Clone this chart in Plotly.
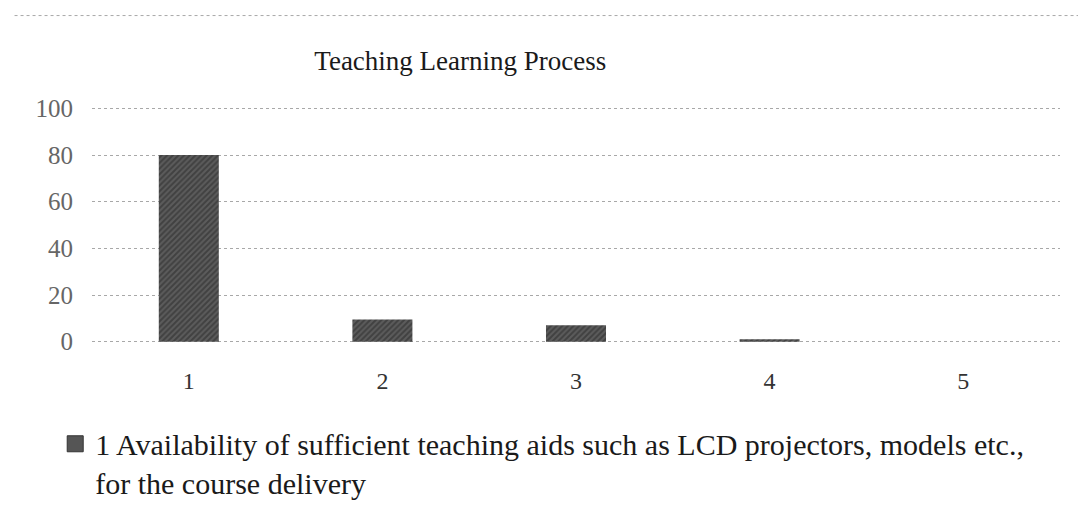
import plotly.graph_objects as go

# Survey responses for the teaching-aids question, by rating category
categories = ["1", "2", "3", "4", "5"]
values = [80, 9.5, 7, 1, 0]
series_name = ("1 Availability of sufficient teaching aids such as LCD projectors, models etc.,"
               "<br>for the course delivery")
y_ticks = [0, 20, 40, 60, 80, 100]

serif = "Liberation Serif, Times New Roman, serif"
bar_fill = "#4a4a4a"

fig = go.Figure()
fig.add_trace(go.Bar(
    x=categories,
    y=values,
    name=series_name,
    width=0.31,
    marker=dict(
        color=bar_fill,
        line=dict(width=0),
        pattern=dict(shape="/", fgcolor="#262626", bgcolor="#5c5c5c", size=4, solidity=0.5),
    ),
    showlegend=False,
    legendgroup="s1",
))
# legend entry for the series (larger square swatch)
fig.add_trace(go.Scatter(
    x=[None], y=[None],
    mode="markers",
    name=series_name,
    legendgroup="s1",
    marker=dict(symbol="square", size=18, color="#555555",
                line=dict(color="#333333", width=1)),
    showlegend=True,
))

fig.update_layout(
    width=1078,
    height=529,
    margin=dict(l=92, r=18, t=106, b=185),
    paper_bgcolor="white",
    plot_bgcolor="white",
    bargap=0.69,
    title=dict(
        text="Teaching Learning Process",
        x=0.427, xanchor="center",
        y=0.885, yanchor="middle",
        font=dict(family=serif, size=27, color="#1a1a1a"),
    ),
    xaxis=dict(
        type="category",
        showgrid=False,
        showline=False,
        ticks="",
        tickfont=dict(family=serif, size=24, color="#333333"),
        ticklabelstandoff=20,
    ),
    yaxis=dict(
        range=[-1, 101],
        tickvals=y_ticks,
        showgrid=True,
        gridcolor="#a8a8a8",
        griddash="dot",
        gridwidth=1,
        zeroline=False,
        showline=False,
        ticks="",
        tickfont=dict(family=serif, size=25, color="#666666"),
        ticklabelstandoff=18,
    ),
    legend=dict(
        orientation="h",
        x=-0.038, xanchor="left",
        y=-0.31, yanchor="top",
        font=dict(family=serif, size=30, color="#1a1a1a"),
        valign="top",
        itemwidth=30,
        itemsizing="trace",
    ),
    shapes=[
        # rule across the top of the page
        dict(type="line", xref="paper", yref="paper",
             x0=-0.08, x1=1.02, y0=1.38, y1=1.38,
             line=dict(color="#a8a8a8", width=1, dash="dot")),
    ],
)

fig.write_html("out.html")
